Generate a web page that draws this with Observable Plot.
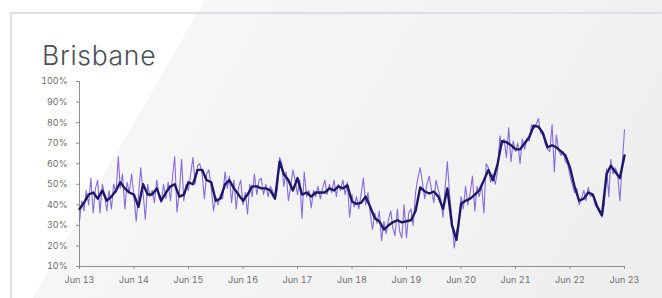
<!DOCTYPE html>
<html>
<head>
<meta charset="utf-8">
<script src="https://cdn.jsdelivr.net/npm/d3@7"></script>
<script src="https://cdn.jsdelivr.net/npm/@observablehq/plot@0.6"></script>
<style>
  html, body { margin: 0; padding: 0; }
  body {
    width: 662px; height: 298px; overflow: hidden; position: relative;
    background: linear-gradient(120deg, #ffffff 0px, #ffffff 177px, #f6f6f6 178px, #f2f2f2 459px, #f3f3f3 460px, #ededed 722px);
    font-family: Inter, "Noto Sans", sans-serif;
  }
  #card {
    position: absolute; left: 10px; top: 12px; width: 720px; height: 400px;
    border: 2px solid #dedfe3; box-sizing: border-box;
  }
  #title {
    position: absolute; left: 42px; top: 42px; margin: 0;
    font-size: 26.5px; line-height: 26px; font-weight: 300; color: #4a4e57;
    letter-spacing: 0.7px;
  }
  #chart { position: absolute; left: 0; top: 70px; }
</style>
</head>
<body>
<div id="card"></div>
<div id="title">Brisbane</div>
<div id="chart"></div>
<script>
// Monthly smoothed occupancy (%), Jun 2013 .. Jun 2023
const smoothValues = [
  38, 41, 45, 46, 43, 47, 42, 44, 47, 51, 48, 46,
  45, 39, 50, 45, 45, 48, 42, 46, 49, 50, 44, 45,
  51, 50, 57, 57, 52, 51, 42, 43, 50, 52, 48, 45,
  42, 45, 49, 49, 48, 48, 47, 43, 61, 55, 52, 47,
  53, 45, 46, 44, 46, 46, 46, 48, 47, 49, 48, 49.5,
  41.5, 40.5, 41, 44, 39, 33.5, 32, 28, 30, 31.5, 32.5, 31.5,
  32, 32.5, 37, 48.5, 46.5, 45.5, 46.5, 44, 38, 48, 30, 23,
  40.5, 42, 43, 45, 47, 52, 57, 52, 60, 71, 70.5, 69,
  67, 67, 70, 73, 78.5, 78, 75, 68, 69, 68, 66, 64,
  58, 49, 42, 43, 46, 45, 39, 35, 55, 59, 56, 53,
  64
];
// Half-monthly raw occupancy (%), Jun 2013 .. Jun 2023
const rawValues = [
  32, 42, 37, 47, 40, 53, 36, 48, 52, 36,
  50, 45, 37, 47, 38, 50, 46, 63.5, 48, 55,
  38, 51, 46, 55, 44, 32, 44, 58, 46, 33,
  50, 44, 47, 41, 52, 44, 41, 50, 43, 51,
  42, 55, 63.5, 36.5, 46, 62, 42, 50, 47, 55,
  63, 50, 59, 60, 55, 43, 55, 57, 48, 37,
  44, 40, 45, 43, 56, 48, 54, 41, 52, 38,
  48, 52, 40, 46, 35.5, 50, 44, 55, 45, 52,
  53, 45, 50, 44, 49, 47, 43, 47, 63, 60,
  49, 56, 42, 49, 57, 52, 45, 52, 33.5, 56,
  44, 47, 38.5, 47, 44, 49, 43, 48, 52, 45,
  50, 46, 52, 44, 50, 47, 52, 45, 51, 34,
  45, 39, 44, 38, 45, 53, 40, 46, 36, 28,
  36, 31, 37, 22.5, 32, 26, 33, 37, 29, 25,
  38, 27, 24, 40, 24, 36, 38, 30, 46, 53,
  58, 51, 43, 50, 54, 47, 41, 52, 47, 43,
  34, 49, 61, 45, 33, 19, 27, 30, 44, 38,
  49, 40, 46, 54, 37, 49, 44, 50, 36, 60,
  58, 51, 55, 50, 57, 73.5, 69, 72, 63, 77.5,
  61, 71, 66, 70, 60, 72, 67, 72, 71, 79,
  77, 79, 82, 75, 74, 70, 67, 66, 79, 56,
  74, 67, 64, 66, 61, 60, 54, 50, 46, 48,
  40, 43, 47, 42, 48.5, 44, 45, 40, 38.5, 36,
  34, 40, 57.5, 44, 62, 55, 58, 55, 42, 59, 76.5
];
const tickYears = [2013, 2014, 2015, 2016, 2017, 2018, 2019, 2020, 2021, 2022, 2023];
const yTicks = [10, 20, 30, 40, 50, 60, 70, 80, 90, 100];

const start = new Date(Date.UTC(2013, 5, 1));
const end = new Date(Date.UTC(2023, 5, 1));
const smooth = smoothValues.map((v, i) => ({date: d3.utcMonth.offset(start, i), v}));
const raw = rawValues.map((v, j) => ({
  date: d3.utcDay.offset(d3.utcMonth.offset(start, Math.floor(j / 2)), j % 2 ? 15 : 0), v
}));
const xTicks = tickYears.map(y => new Date(Date.UTC(y, 5, 1)));
const fmt = d3.utcFormat("%b %y");

const chart = Plot.plot({
  width: 662, height: 228,
  marginTop: 11, marginBottom: 32, marginLeft: 79, marginRight: 38,
  style: {background: "transparent", fontFamily: "Inter, 'Noto Sans', sans-serif", fontSize: "9px", color: "#6b6b6b"},
  x: {type: "utc", domain: [start, end]},
  y: {domain: [10, 100]},
  marks: [
    Plot.axisY({ticks: yTicks, tickSize: 3, tickPadding: 9, tickFormat: d => d + "%", label: null, stroke: "#8f8f8f", fill: "#707070"}),
    Plot.axisX({ticks: xTicks, tickSize: 3, tickPadding: 7, tickFormat: fmt, label: null, stroke: "#8f8f8f", fill: "#707070"}),
    Plot.ruleX([start], {stroke: "#8f8f8f"}),
    Plot.ruleY([10], {stroke: "#8f8f8f"}),
    Plot.lineY(raw, {x: "date", y: "v", stroke: "#7b5cdb", strokeWidth: 1.1, strokeOpacity: 0.9}),
    Plot.lineY(smooth, {x: "date", y: "v", stroke: "#1c1766", strokeWidth: 2.4, curve: "linear"})
  ]
});
document.getElementById("chart").appendChild(chart);
</script>
</body>
</html>
